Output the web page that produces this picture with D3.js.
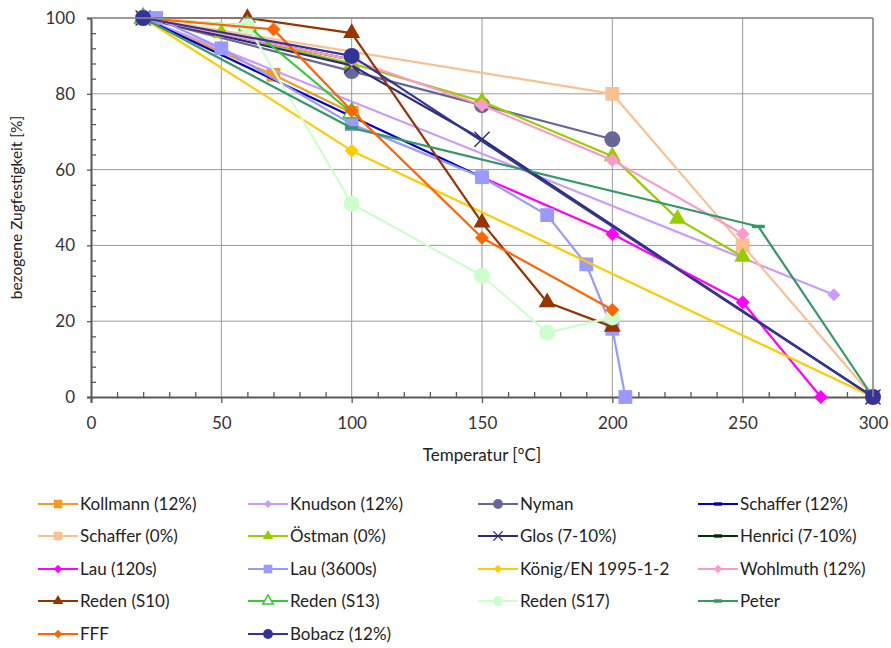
<!DOCTYPE html>
<html>
<head>
<meta charset="utf-8">
<script src="https://cdn.jsdelivr.net/npm/d3@7"></script>
<style>
  html, body { margin: 0; padding: 0; background: #fff; }
  svg { display: block; font-family: Lato, "Open Sans", sans-serif; }
</style>
</head>
<body>
<div id="chart"></div>
<script>
// Tensile strength ratio vs. temperature, one array of [T, %] per source

const xTicks = [0, 50, 100, 150, 200, 250, 300];
const yTicks = [0, 20, 40, 60, 80, 100];

const kollmann    = [[20, 100], [70, 85], [100, 75]];
const knudson     = [[20, 100], [285, 27]];
const nyman       = [[20, 100], [100, 86], [150, 77], [200, 68]];
const schaffer12  = [[20, 100], [100, 74], [150, 58]];
const schaffer0   = [[20, 100], [200, 80], [250, 40], [300, 0]];
const ostman      = [[20, 100], [50, 96], [100, 88], [150, 78], [200, 63.5], [225, 47], [250, 37]];
const glos        = [[20, 100], [100, 87.5], [150, 68], [300, 0]];
const henrici     = [[20, 100], [100, 89]];
const lau120      = [[150, 58], [200, 43], [250, 25], [280, 0]];
const lau3600     = [[25, 100], [50, 92], [100, 72], [150, 58], [175, 48], [190, 35], [200, 18], [205, 0]];
const konig       = [[20, 100], [100, 65], [300, 0]];
const wohlmuth    = [[20, 100], [100, 89], [150, 77], [200, 62.5], [250, 43]];
const redenS10    = [[20, 100], [60, 100], [100, 96], [150, 46], [175, 25], [200, 18.5]];
const redenS13    = [[20, 100], [60, 98], [100, 75]];
const redenS17    = [[20, 100], [60, 98], [100, 51], [150, 32], [175, 17], [200, 21]];
const peter       = [[20, 100], [100, 71], [256, 45], [300, 0]];
const fff         = [[20, 100], [70, 97], [100, 75.5], [150, 42], [200, 23]];
const bobacz      = [[20, 100], [100, 90], [300, 0]];

// style table (legend order = drawing order)
const series = [
  { name: "Kollmann (12%)",     data: kollmann,   color: "#F59B1E", mark: "square" },
  { name: "Knudson (12%)",      data: knudson,    color: "#CC99FF", mark: "diamondS" },
  { name: "Nyman",              data: nyman,      color: "#666699", mark: "circle" },
  { name: "Schaffer (12%)",     data: schaffer12, color: "#0000CC", mark: "dash" },
  { name: "Schaffer (0%)",      data: schaffer0,  color: "#FAC090", mark: "square" },
  { name: "Östman (0%)",        data: ostman,     color: "#99CC00", mark: "triangle" },
  { name: "Glos (7-10%)",       data: glos,       color: "#2B2B78", mark: "x" },
  { name: "Henrici (7-10%)",    data: henrici,    color: "#003300", mark: "dash" },
  { name: "Lau (120s)",         data: lau120,     color: "#FF00FF", mark: "diamond" },
  { name: "Lau (3600s)",        data: lau3600,    color: "#9999FF", mark: "square" },
  { name: "König/EN 1995-1-2",  data: konig,      color: "#FFCC00", mark: "diamond" },
  { name: "Wohlmuth (12%)",     data: wohlmuth,   color: "#FF99CC", mark: "diamond" },
  { name: "Reden (S10)",        data: redenS10,   color: "#993300", mark: "triangle" },
  { name: "Reden (S13)",        data: redenS13,   color: "#33CC33", mark: "triangleOpen" },
  { name: "Reden (S17)",        data: redenS17,   color: "#CCFFCC", mark: "circle" },
  { name: "Peter",              data: peter,      color: "#339966", mark: "dash" },
  { name: "FFF",                data: fff,        color: "#FF6600", mark: "diamond" },
  { name: "Bobacz (12%)",       data: bobacz,     color: "#333399", mark: "circle" }
];

const width = 891, height = 648;
const plot = { left: 91, right: 873, top: 18, bottom: 397 };

const svg = d3.select("#chart").append("svg")
  .attr("width", width)
  .attr("height", height);

const x = d3.scaleLinear([0, 300], [plot.left, plot.right]);
const y = d3.scaleLinear([0, 100], [plot.bottom, plot.top]);

// ---- grid ----
const grid = svg.append("g").attr("stroke", "#9a9a9a").attr("stroke-width", 1);
grid.selectAll("line.v").data(xTicks.filter(t => t > 0)).join("line")
  .attr("x1", d => x(d)).attr("x2", d => x(d))
  .attr("y1", plot.top).attr("y2", plot.bottom);
grid.selectAll("line.h").data(yTicks.filter(t => t > 0)).join("line")
  .attr("class", "h")
  .attr("x1", plot.left).attr("x2", plot.right)
  .attr("y1", d => y(d)).attr("y2", d => y(d));

// ---- axes ----
const axisColor = "#595959";
const xMinor = d3.range(0, 301, 10).filter(t => t % 50 !== 0);
const yMinor = d3.range(0, 101, 4).filter(t => t % 20 !== 0);

const xAxisG = svg.append("g")
  .attr("transform", `translate(0,${plot.bottom})`)
  .call(d3.axisBottom(x).tickValues(xTicks).tickSize(6).tickPadding(14));
xAxisG.append("g")
  .call(d3.axisTop(x).tickValues(xMinor).tickSize(5).tickFormat(""))
  .select(".domain").remove();

const yAxisG = svg.append("g")
  .attr("transform", `translate(${plot.left},0)`)
  .call(d3.axisLeft(y).tickValues(yTicks).tickSize(4).tickPadding(12));
yAxisG.append("g")
  .call(d3.axisRight(y).tickValues(yMinor).tickSize(5).tickFormat(""))
  .select(".domain").remove();

svg.selectAll(".domain").attr("stroke", axisColor).attr("stroke-width", 2);
svg.selectAll(".tick line").attr("stroke", axisColor).attr("stroke-width", 1.3);
svg.selectAll(".tick text").attr("fill", "#333").attr("font-size", 17)
  .attr("font-family", "Lato, sans-serif");

// ---- series ----
const line = d3.line().x(d => x(d[0])).y(d => y(d[1]));

function markerPath(kind, scale = 1) {
  const k = scale * scale;
  switch (kind) {
    case "square": return d3.symbol(d3.symbolSquare, 190 * k)();
    case "circle": return d3.symbol(d3.symbolCircle, 200 * k)();
    case "triangle":
    case "triangleOpen": return d3.symbol(d3.symbolTriangle, 125 * k)();
    case "diamond": return d3.symbol(d3.symbolSquare, 96 * k)();
    case "diamondS": return d3.symbol(d3.symbolSquare, 84 * k)();
    case "x": return d3.symbol(d3.symbolX || d3.symbolCross, 150 * k)();
    default: return null;
  }
}

function drawMarker(g, kind, color, scale = 1) {
  if (kind === "dash") {
    g.append("rect")
      .attr("x", -6.5 * scale).attr("y", -1.7)
      .attr("width", 13 * scale).attr("height", 3.4)
      .attr("fill", color);
    return;
  }
  const p = g.append("path").attr("d", markerPath(kind, scale));
  if (kind === "diamond" || kind === "diamondS") p.attr("transform", "rotate(45)");
  if (kind === "x") {
    p.attr("fill", "none").attr("stroke", color).attr("stroke-width", 1.4);
  } else if (kind === "triangleOpen") {
    p.attr("fill", "#fff").attr("stroke", color).attr("stroke-width", 1.5);
  } else {
    p.attr("fill", color);
  }
}

const seriesG = svg.append("g");
series.forEach(s => {
  const g = seriesG.append("g");
  g.append("path")
    .attr("d", line(s.data))
    .attr("fill", "none")
    .attr("stroke", s.color)
    .attr("stroke-width", 2.2)
    .attr("stroke-linejoin", "round");
  s.data.forEach(d => {
    const m = g.append("g").attr("transform", `translate(${x(d[0])},${y(d[1])})`);
    drawMarker(m, s.mark, s.color);
  });
});

// plot frame top/right
svg.append("line")
  .attr("x1", plot.left).attr("x2", plot.right)
  .attr("y1", plot.top).attr("y2", plot.top)
  .attr("stroke", "#8c8c8c").attr("stroke-width", 1.5);
svg.append("line")
  .attr("x1", plot.right).attr("x2", plot.right)
  .attr("y1", plot.top).attr("y2", plot.bottom)
  .attr("stroke", "#8c8c8c").attr("stroke-width", 1.5);

// ---- titles ----
svg.append("text")
  .attr("x", (plot.left + plot.right) / 2)
  .attr("y", 461)
  .attr("text-anchor", "middle")
  .attr("font-size", 17)
  .attr("fill", "#222")
  .text("Temperatur [°C]");

svg.append("text")
  .attr("transform", `translate(22,${(plot.top + plot.bottom) / 2}) rotate(-90)`)
  .attr("text-anchor", "middle")
  .attr("font-size", 15.5)
  .attr("fill", "#222")
  .text("bezogene Zugfestigkeit [%]");

// ---- legend ----
const colX = [38, 248, 478, 698];
const rowY = [504, 536, 569, 601, 634];
const legend = svg.append("g");
series.forEach((s, i) => {
  const g = legend.append("g")
    .attr("transform", `translate(${colX[i % 4]},${rowY[Math.floor(i / 4)]})`);
  g.append("line")
    .attr("x1", 0).attr("x2", 40)
    .attr("stroke", s.color).attr("stroke-width", 2.2);
  const m = g.append("g").attr("transform", "translate(20,0)");
  drawMarker(m, s.mark, s.color, 0.62);
  g.append("text")
    .attr("x", 42)
    .attr("dy", "0.36em")
    .attr("font-size", 17)
    .attr("fill", "#222")
    .text(s.name);
});
</script>
</body>
</html>
